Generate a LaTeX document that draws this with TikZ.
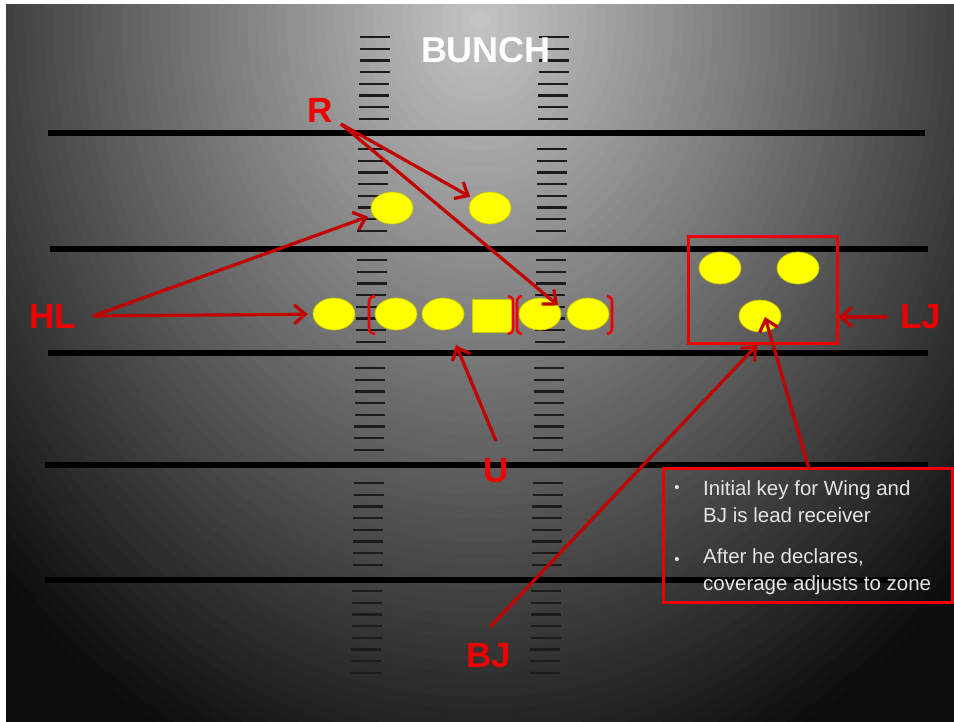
\documentclass[tikz,border=0pt]{standalone}
\usepackage{fontspec}
\setmainfont{Liberation Sans}
\usetikzlibrary{arrows.meta,shapes.geometric}
\definecolor{lblred}{RGB}{238,0,0}
\definecolor{arrred}{RGB}{195,0,0}
\definecolor{boxred}{RGB}{238,0,0}
\definecolor{ply}{RGB}{255,255,0}
\definecolor{txtgray}{RGB}{228,228,228}
\definecolor{hashc}{RGB}{28,28,28}
\definecolor{basebg}{RGB}{12,12,12}
\begin{document}
\begin{tikzpicture}[x=1pt,y=-1pt,
  yard/.style={line width=5.8pt, black},
  hashmark/.style={line width=2.4pt, hashc},
  player/.style={ellipse, minimum width=42pt, minimum height=32pt, inner sep=0pt,
                 fill=ply, draw=ply!78!black, line width=0.7pt},
  center/.style={rectangle, minimum width=40pt, minimum height=33pt, inner sep=0pt,
                 fill=ply, draw=ply!78!black, line width=0.7pt},
  brk/.style={draw=lblred, line width=2.6pt},
  lbl/.style={text=lblred, font=\fontsize{35}{40}\selectfont\bfseries, inner sep=0pt},
  arr/.style={draw=arrred, line width=3.2pt, -{Straight Barb[length=11pt,width=19pt]}},
  redbox/.style={draw=boxred, line width=3pt},
  txt/.style={text=txtgray, font=\fontsize{20.5}{24}\selectfont, inner sep=0pt}]
\useasboundingbox (0,0) rectangle (954,721);
% background gradient
\begin{scope}
  \clip (6,4) rectangle (960,730);
  \fill[basebg] (6,4) rectangle (960,730);
  \foreach \k in {70,69,...,1}{
    \pgfmathtruncatemacro\v{max(12,198-2.7*\k)}
    \definecolor{bgk}{RGB}{\v,\v,\v}
    \fill[bgk] (480,20) ellipse [x radius={9.6875*\k}, y radius={11.875*\k}];
  }
\end{scope}
% page margins
\fill[white] (-2,-2) rectangle (6,730);
\fill[white] (-2,-2) rectangle (960,4);
% hash marks
\foreach \s in {37,149,260,368,483,591}{
  \foreach \j in {0,...,7}{
    \pgfmathsetmacro\yy{\s+11.7*\j}
    \pgfmathsetmacro\lx{375-9*(\yy-37)/637}
    \pgfmathsetmacro\rx{554-9*(\yy-37)/637}
    \draw[hashmark] (\lx-15,\yy) -- (\lx+15,\yy);
    \draw[hashmark] (\rx-15,\yy) -- (\rx+15,\yy);
  }
}
% yard lines
\draw[yard] (48,133) -- (925,133);
\draw[yard] (50,249) -- (928,249);
\draw[yard] (48,353) -- (928,353);
\draw[yard] (45,465) -- (928,465);
\draw[yard] (45,580) -- (928,580);
% title
\node[text=white, font=\fontsize{36}{40}\selectfont\bfseries, inner sep=0pt] (title) at (486,50) {BUNCH};
% players
\node[player] (t1) at (392,208) {};
\node[player] (t2) at (490,208) {};
\node[player] (c1) at (334,314) {};
\node[player] (c2) at (396,314) {};
\node[player] (c3) at (443,314) {};
\node[center] (sq) at (492,316) {};
\node[player] (c5) at (540,314) {};
\node[player] (c6) at (588,314) {};
\node[player] (r1) at (720,268) {};
\node[player] (r2) at (798,268) {};
\node[player] (r3) at (760,316) {};
% brackets
\draw[brk] (375,296) .. controls (369,297) and (369,300) .. (369,304) -- (369,326) .. controls (369,330) and (369,333) .. (375,334);
\draw[brk] (508,296) .. controls (513,297) and (513,300) .. (513,304) -- (513,326) .. controls (513,330) and (513,333) .. (508,334);
\draw[brk] (522,296) .. controls (517,297) and (517,300) .. (517,304) -- (517,326) .. controls (517,330) and (517,333) .. (522,334);
\draw[brk] (607,296) .. controls (612,297) and (612,300) .. (612,304) -- (612,326) .. controls (612,330) and (612,333) .. (607,334);
% boxes
\node[redbox, minimum width=149pt, minimum height=107pt, inner sep=0pt] (ljbox) at (762.5,289.5) {};
\node[redbox, minimum width=289pt, minimum height=134pt, inner sep=0pt] (tbox) at (807.5,535) {};
% labels
\node[lbl] (R) at (320,110) {R};
\node[lbl] (HL) at (53,316) {HL};
\node[lbl] (U) at (496,471) {U};
\node[lbl] (BJ) at (489,656) {BJ};
\node[lbl] (LJ) at (921,317) {LJ};
% arrow anchors
\coordinate (rs) at (341,124);
\coordinate (hs) at (93,316);
\coordinate (us) at (496,441);
\coordinate (ut) at (456,345);
\coordinate (bs) at (490,627);
\coordinate (bt) at (757,345);
\coordinate (ts) at (809,469);
% arrows
\draw[arr, shorten >=3pt] (rs) -- (t2);
\draw[arr] (rs) -- ([xshift=3pt,yshift=-3pt]c5.north east);
\draw[arr, shorten >=5pt] (hs) -- (t1);
\draw[arr, shorten >=5pt] (hs) -- (c1);
\draw[arr] (us) -- (ut);
\draw[arr] (bs) -- (bt);
\draw[arr] (ts) -- ([xshift=5pt,yshift=-1pt]r3.center);
\draw[arr] ([xshift=-13pt]LJ.west) -- (ljbox.east |- LJ.west);
% text box content
\node[txt, font=\fontsize{15}{18}\selectfont] (b1) at (677,489) {•};
\node[txt, anchor=base west] (l1) at (703,495) {Initial key for Wing and};
\node[txt, anchor=base west] (l2) at (703,522) {BJ is lead receiver};
\node[txt, font=\fontsize{15}{18}\selectfont] (b2) at (677,561) {•};
\node[txt, anchor=base west] (l3) at (703,563) {After he declares,};
\node[txt, anchor=base west] (l4) at (703,590) {coverage adjusts to zone};
\end{tikzpicture}
\end{document}
